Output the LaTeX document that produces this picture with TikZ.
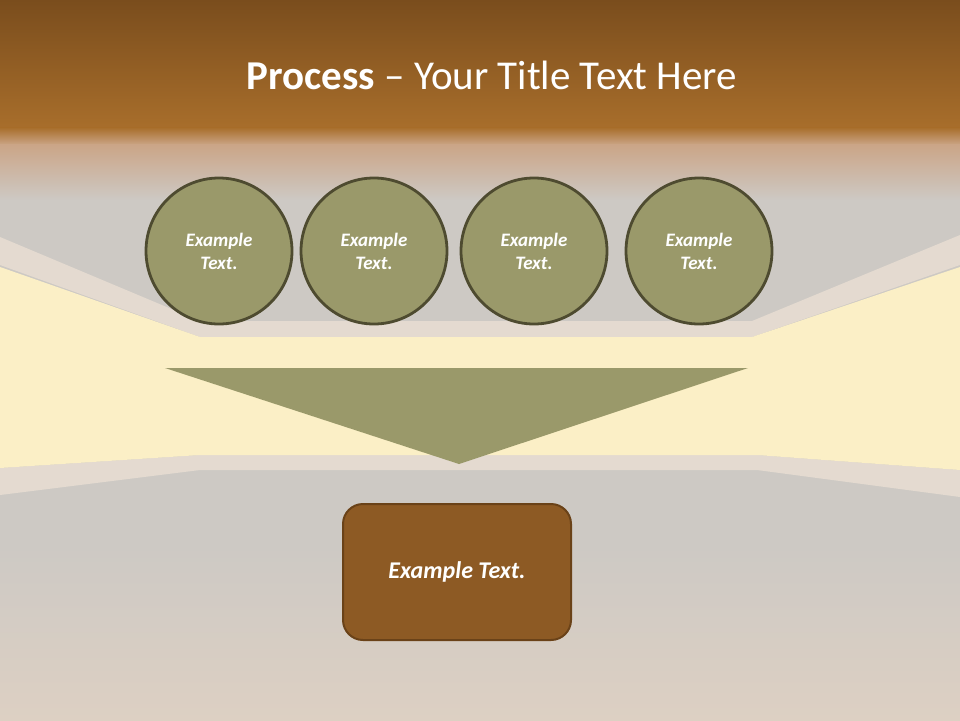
\documentclass[tikz,border=0pt]{standalone}
\usepackage{fontspec}
\setmainfont{Carlito}
\usetikzlibrary{positioning}
\definecolor{brownTop}{HTML}{7A4D1D}
\definecolor{brownMid}{HTML}{A86E2B}
\definecolor{pinkFade}{HTML}{CBA587}
\definecolor{bgGray}{HTML}{CDC9C4}
\definecolor{floorWarm}{HTML}{DDD0C3}
\definecolor{wallYellow}{HTML}{FBEFC6}
\definecolor{stripCol}{HTML}{E4DAD0}
\definecolor{olive}{HTML}{9A996A}
\definecolor{oliveEdge}{HTML}{4E4B30}
\definecolor{boxBrown}{HTML}{8D5A24}
\definecolor{boxEdge}{HTML}{6A4218}
\tikzset{
  stepcircle/.style={circle, draw=oliveEdge, line width=2.8pt, fill=olive,
    minimum size=146pt, inner sep=0pt, align=center, text=white,
    font=\fontsize{19}{23}\selectfont\bfseries\itshape},
  resultbox/.style={rectangle, rounded corners=20pt, draw=boxEdge, line width=2pt,
    fill=boxBrown, minimum width=228pt, minimum height=136pt, text=white,
    font=\fontsize{24}{28}\selectfont\bfseries\itshape},
  titletext/.style={text=white, font=\fontsize{41}{48}\selectfont}
}
\begin{document}
\begin{tikzpicture}[x=1pt,y=-1pt]
\useasboundingbox (0,0) rectangle (960,720);
% background
\fill[bgGray] (0,0) rectangle (960,720);
\shade[top color=brownTop, bottom color=brownMid] (0,0) rectangle (960,128);
\shade[top color=brownMid, bottom color=pinkFade] (0,127.5) rectangle (960,145);
\shade[top color=pinkFade, bottom color=bgGray] (0,144.5) rectangle (960,200);
\shade[top color=bgGray, bottom color=floorWarm] (0,545) rectangle (960,720);
% ceiling strips
\fill[stripCol] (0,237) -- (200,321) -- (752,321) -- (960,235) -- (960,265) -- (752,337) -- (200,337) -- (0,265) -- cycle;
% floor strips
\fill[stripCol] (0,468) -- (200,455) -- (757,455) -- (960,470) -- (960,497) -- (757,470) -- (200,470) -- (0,495) -- cycle;
% yellow wall
\fill[wallYellow] (0,267) -- (200,337) -- (752,337) -- (960,267) -- (960,470) -- (757,455) -- (200,455) -- (0,468) -- cycle;
% title
\node[titletext] (title) at (492,75) {\textbf{Process} – Your Title Text Here};
% circles
\node[stepcircle] (c1) at (219,251) {Example\\Text.};
\node[stepcircle] (c2) at (374,251) {Example\\Text.};
\node[stepcircle] (c3) at (534,251) {Example\\Text.};
\node[stepcircle] (c4) at (699,251) {Example\\Text.};
% funnel triangle
\coordinate (tl) at (165,368);
\coordinate (tr) at (748,368);
\coordinate (tb) at (459,464);
\fill[olive] (tl) -- (tr) -- (tb) -- cycle;
% result box
\node[resultbox] (res) at (457,572) {Example Text.};
\end{tikzpicture}
\end{document}
